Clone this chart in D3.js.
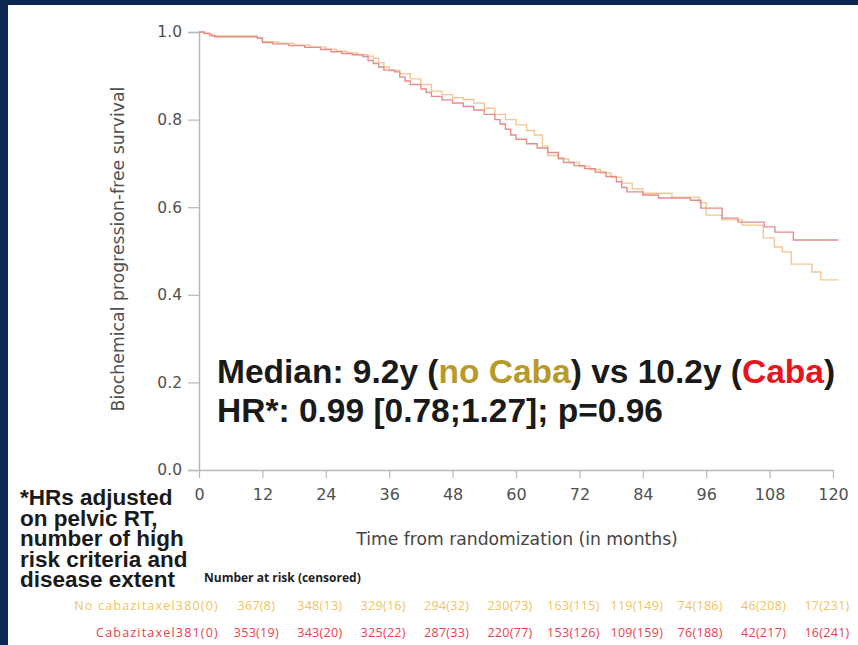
<!DOCTYPE html>
<html>
<head>
<meta charset="utf-8">
<script src="https://cdn.jsdelivr.net/npm/d3@7"></script>
<style>
  html, body { margin: 0; padding: 0; background: #0c2752; }
  svg { display: block; }
</style>
</head>
<body>
<svg id="chart" width="858" height="645"></svg>
<script>
// Kaplan–Meier steps: month at which each step begins and survival after it
const cabaTimes = [0, 1, 2, 3, 11, 12, 14, 17, 20, 23, 25, 27, 29, 31, 32, 33, 34, 35, 37, 38,
  39, 40, 42, 43, 44, 46, 48, 50, 52, 54, 56, 57, 58, 59, 60, 62, 64, 66, 68, 69,
  71, 73, 75, 77, 79, 80, 81, 84, 87, 93, 95, 99, 102, 107, 109, 112.5];
const cabaSurv = [1.000, 0.997, 0.992, 0.989, 0.986, 0.976, 0.973, 0.969, 0.965, 0.960,
  0.955, 0.951, 0.948, 0.944, 0.935, 0.928, 0.920, 0.913, 0.909, 0.897,
  0.888, 0.880, 0.870, 0.862, 0.853, 0.845, 0.838, 0.830, 0.822, 0.812,
  0.800, 0.790, 0.778, 0.765, 0.755, 0.745, 0.735, 0.725, 0.712, 0.702,
  0.695, 0.688, 0.680, 0.670, 0.658, 0.645, 0.635, 0.628, 0.621, 0.616,
  0.598, 0.575, 0.566, 0.555, 0.543, 0.525];

const noCabaTimes = [0, 1, 2.5, 11, 12, 15, 18, 21, 24, 26, 28, 30, 32, 33, 34, 35, 36, 38, 40, 42,
  44, 46, 48, 50, 52, 54, 56, 58, 60, 62, 63.5, 65, 66, 68, 70, 72, 74, 76, 78, 80,
  82, 84, 89.5, 94.7, 96, 99, 102.8, 106.8, 108.9, 110.4, 112.1, 116, 117.7];
const noCabaSurv = [1.000, 0.996, 0.991, 0.987, 0.978, 0.974, 0.970, 0.966, 0.961, 0.956,
  0.952, 0.948, 0.945, 0.940, 0.930, 0.920, 0.912, 0.905, 0.893, 0.880,
  0.865, 0.857, 0.850, 0.846, 0.838, 0.826, 0.812, 0.800, 0.788, 0.775,
  0.765, 0.740, 0.718, 0.710, 0.702, 0.693, 0.686, 0.678, 0.668, 0.655,
  0.642, 0.632, 0.623, 0.610, 0.582, 0.571, 0.559, 0.530, 0.509, 0.498,
  0.470, 0.452, 0.434];

const followUpEnd = 121;

const monthTicks = [0, 12, 24, 36, 48, 60, 72, 84, 96, 108, 120];
const survivalTicks = [0.0, 0.2, 0.4, 0.6, 0.8, 1.0];

// Number at risk (censored) at each tick month
const riskMonths = [0, 12, 24, 36, 48, 60, 72, 84, 96, 108, 120];
const noCabaAtRisk = ["380(0)", "367(8)", "348(13)", "329(16)", "294(32)", "230(73)",
  "163(115)", "119(149)", "74(186)", "46(208)", "17(231)"];
const cabaAtRisk = ["381(0)", "353(19)", "343(20)", "325(22)", "287(33)", "220(77)",
  "153(126)", "109(159)", "76(188)", "42(217)", "16(241)"];

const armNames = ["No cabazitaxel", "Cabazitaxel"];

// ---------- drawing ----------
const svg = d3.select("#chart");
const W = 858, H = 645;

const COL_CABA = "#e68c8c";
const COL_NOCABA = "#f4c792";
const AXIS = "#b8b8b8";
const TXT = "#505050";

// slide frame: dark band on top and left, white panel
svg.append("rect").attr("x", 0).attr("y", 0).attr("width", W).attr("height", H).attr("fill", "#0c2752");
svg.append("rect").attr("x", 8).attr("y", 5).attr("width", W - 8).attr("height", H - 5).attr("fill", "#ffffff");

const x = d3.scaleLinear().domain([0, 120]).range([199, 833]);
const y = d3.scaleLinear().domain([0, 1]).range([470, 32]);

// y axis
const yAxis = d3.axisLeft(y).tickValues(survivalTicks).tickFormat(d3.format(".1f"))
  .tickSize(11).tickPadding(6);
const gy = svg.append("g").attr("transform", `translate(${x(0)},0)`).call(yAxis);
gy.select(".domain").attr("stroke", AXIS).attr("stroke-width", 1.5);
gy.selectAll(".tick line").attr("stroke", AXIS).attr("stroke-width", 1.2);
gy.selectAll(".tick text").attr("fill", TXT).style("font-family", "DejaVu Sans")
  .style("font-size", "15.5px");

// x axis
const xAxis = d3.axisBottom(x).tickValues(monthTicks).tickFormat(d3.format("d"))
  .tickSize(8).tickPadding(11).tickSizeOuter(0);
const gx = svg.append("g").attr("transform", `translate(0,${y(0)})`).call(xAxis);
gx.select(".domain").attr("stroke", AXIS).attr("stroke-width", 1.5);
gx.selectAll(".tick line").attr("stroke", AXIS).attr("stroke-width", 1.2);
gx.selectAll(".tick text").attr("fill", TXT).style("font-family", "DejaVu Sans")
  .style("font-size", "16px");

// axis titles
svg.append("text")
  .attr("transform", "translate(118,249) rotate(-90)")
  .attr("text-anchor", "middle").attr("dominant-baseline", "central")
  .attr("fill", TXT).style("font-family", "DejaVu Sans").style("font-size", "17.3px")
  .text("Biochemical progression-free survival");

svg.append("text")
  .attr("x", 517).attr("y", 539)
  .attr("text-anchor", "middle").attr("dominant-baseline", "central")
  .attr("fill", "#444").style("font-family", "DejaVu Sans").style("font-size", "17.2px")
  .text("Time from randomization (in months)");

// survival curves
function steps(times, surv) {
  const pts = times.map((t, i) => [t, surv[i]]);
  pts.push([followUpEnd, surv[surv.length - 1]]);
  return pts;
}
const line = d3.line().x(d => x(d[0])).y(d => y(d[1])).curve(d3.curveStepAfter);

svg.append("path").datum(steps(noCabaTimes, noCabaSurv))
  .attr("d", line).attr("fill", "none").attr("stroke", COL_NOCABA).attr("stroke-width", 1.4);
svg.append("path").datum(steps(cabaTimes, cabaSurv))
  .attr("d", line).attr("fill", "none").attr("stroke", COL_CABA).attr("stroke-width", 1.4);

// result annotation
const annFont = "Liberation Sans, Arial, sans-serif";
const ann = svg.append("text").attr("x", 217).attr("y", 383)
  .style("font-family", annFont).style("font-weight", "bold")
  .style("font-size", "33.5px").attr("fill", "#1a1a1a");
ann.append("tspan").text("Median: 9.2y (");
ann.append("tspan").attr("fill", "#b89a2c").text("no Caba");
ann.append("tspan").text(") vs 10.2y (");
ann.append("tspan").attr("fill", "#e8141e").text("Caba");
ann.append("tspan").text(")");

svg.append("text").attr("x", 217).attr("y", 422)
  .style("font-family", annFont).style("font-weight", "bold")
  .style("font-size", "33.5px").attr("fill", "#1a1a1a")
  .text("HR*: 0.99 [0.78;1.27]; p=0.96");

// footnote: one text block, lines set tight
const footLines = ["*HRs adjusted", "on pelvic RT,", "number of high", "risk criteria and", "disease extent"];
svg.append("text").attr("x", 20).attr("y", 505)
  .style("font-family", annFont).style("font-weight", "bold")
  .style("font-size", "22.5px").attr("fill", "#1a1a1a")
  .selectAll("tspan").data(footLines).join("tspan")
  .attr("x", 20).attr("dy", (d, i) => i === 0 ? 0 : 20.5)
  .text(d => d);

// number-at-risk table
svg.append("text").attr("x", 204).attr("y", 577).attr("dominant-baseline", "central")
  .style("font-family", "Open Sans").style("font-weight", "bold").style("font-size", "12px")
  .attr("fill", "#222").text("Number at risk (censored)");

const riskRows = [
  { name: armNames[0], values: noCabaAtRisk, color: "#efc35e", yPos: 605 },
  { name: armNames[1], values: cabaAtRisk, color: "#e8404f", yPos: 632 }
];
riskRows.forEach(row => {
  const g = svg.append("g").style("font-family", "Open Sans").style("font-size", "12.5px")
    .style("letter-spacing", "0.3px").attr("fill", row.color);
  g.append("text").attr("x", 219).attr("y", row.yPos).attr("text-anchor", "end")
    .attr("dominant-baseline", "central").style("letter-spacing", "1.2px")
    .text(row.name + row.values[0]);
  g.selectAll("text.v").data(riskMonths.slice(1)).join("text").attr("class", "v")
    .attr("x", m => x(m) - 6).attr("y", row.yPos)
    .attr("text-anchor", "middle").attr("dominant-baseline", "central")
    .text((m, i) => row.values[i + 1]);
});
</script>
</body>
</html>
